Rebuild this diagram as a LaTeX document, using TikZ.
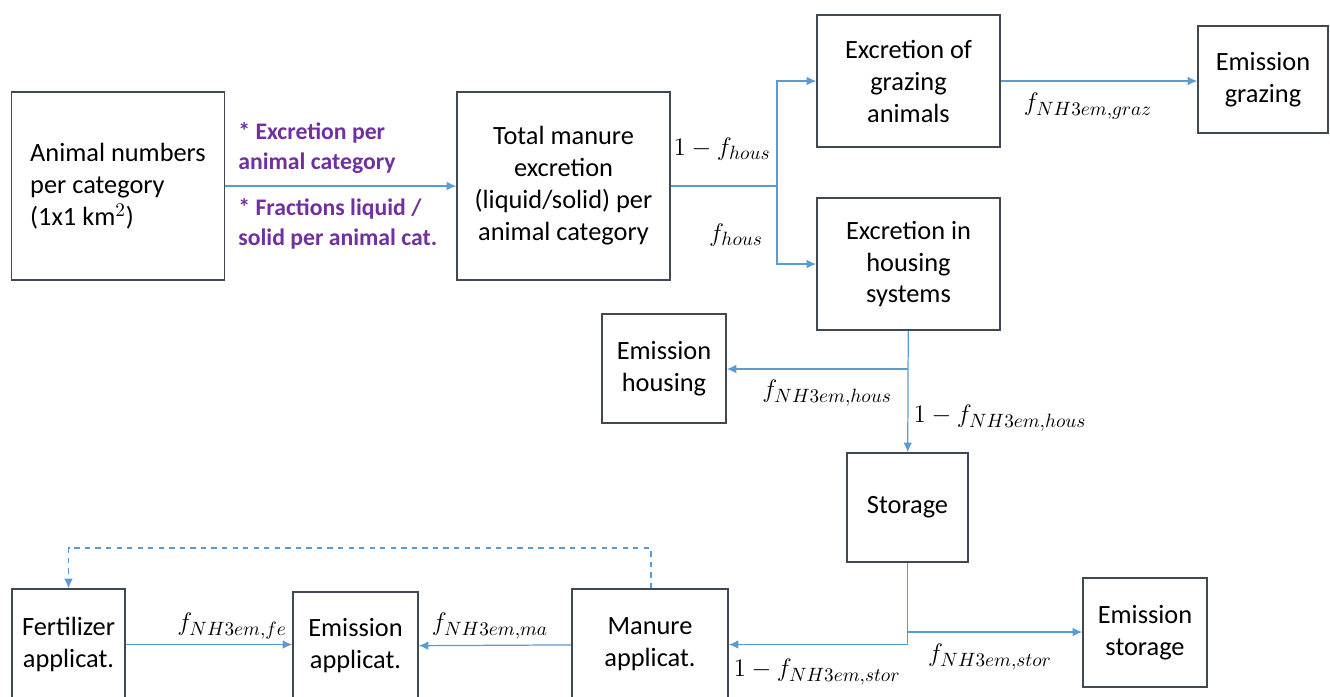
\documentclass[tikz,border=0pt]{standalone}
\usepackage{fontspec}
\setmainfont{Carlito}
\usepackage{amsmath}
\usetikzlibrary{arrows.meta}
\definecolor{flowblue}{RGB}{91,155,213}
\definecolor{boxgray}{RGB}{64,72,84}
\definecolor{notepurple}{RGB}{112,48,160}

\begin{document}
\begin{tikzpicture}[x=0.2mm, y=-0.2mm,
    box/.style={draw=boxgray, line width=0.9pt, inner sep=0pt, align=center,
                font=\fontsize{15}{18.2}\selectfont},
    flow/.style={draw=flowblue, line width=0.7pt, -{Latex[length=1.9mm,width=1.7mm]}},
    lbl/.style={font=\fontsize{15}{18}\selectfont, inner sep=1pt},
    note/.style={text=notepurple, align=left, anchor=west, inner sep=0pt,
                 font=\fontsize{13.5}{17}\selectfont\bfseries}]
              \useasboundingbox (0,0) rectangle (1330,696);
              % boxes
              \node [box, align=left, minimum width=42.6mm, minimum height=37.6mm] (animal) at (118,186) {Animal numbers\\per category\\(1x1 km$^2$)};
              \node [box, minimum width=42.6mm, minimum height=37.6mm] (total) at (563.5,186) {Total manure\\excretion\\(liquid/solid) per\\animal category};
              \node [box, minimum width=36.6mm, minimum height=26.4mm] (grazing) at (908.5,81) {Excretion of\\grazing\\animals};
              \node [box, minimum width=26mm, minimum height=21.4mm] (emgraz) at (1263,79.5) {Emission\\grazing};
              \node [box, minimum width=36.6mm, minimum height=26.4mm] (housing) at (908.5,264) {Excretion in\\housing\\systems};
              \node [box, minimum width=24.8mm, minimum height=21.8mm] (emhous) at (664,368.5) {Emission\\housing};
              \node [box, minimum width=24.2mm, minimum height=21.8mm] (storage) at (907.5,507.5) {Storage};
              \node [box, minimum width=24.8mm, minimum height=21.8mm] (emstor) at (1145,632.5) {Emission\\storage};
              \node [box, minimum width=31.2mm, minimum height=22.2mm] (manure) at (650,644.5) {Manure\\applicat.};
              \node [box, minimum width=25mm, minimum height=21.6mm] (emappl) at (355.5,646) {Emission\\applicat.};
              \node [box, minimum width=22.6mm, minimum height=22.2mm] (fert) at (68.5,644.5) {Fertilizer\\applicat.};
              % branch points
              \coordinate (split) at (777,186);
              \coordinate (hbr) at (908,369);
              \coordinate (sbr) at (908,632);
              \coordinate (dash) at (651,548);
              % connectors
              \draw [flow] (animal) -- (total);
              \draw [flow] (total.east |- split) -- (split) |- (grazing);
              \draw [flow] (split) |- (housing);
              \draw [flow] (grazing.east) -- (grazing.east -| emgraz.west);
              \draw [flow] (housing) -- (storage);
              \draw [flow] (hbr) -- (hbr -| emhous.east);
              \draw [flow] (storage) |- (manure);
              \draw [flow] (sbr) -- (sbr -| emstor.west);
              \draw [flow] (manure) -- (emappl);
              \draw [flow] (fert.east) -- (fert.east -| emappl.west);
              \draw [flow, dashed] (dash |- manure.north) -- (dash) -| (fert);
              % labels
              \node [note] (noteup) at (238,148) {* Excretion per\\animal category};
              \node [note] (notedown) at (238,224) {* Fractions liquid /\\solid per animal cat.};
              \node [lbl] (lgraz1) at (722,149) {$1-f_{hous}$};
              \node [lbl] (lhous1) at (736,235) {$f_{hous}$};
              \node [lbl] (lgraz2) at (1088,106) {$f_{NH3em,graz}$};
              \node [lbl] (lhous2) at (827,393) {$f_{NH3em,hous}$};
              \node [lbl] (lhous3) at (1000,418) {$1-f_{NH3em,hous}$};
              \node [lbl] (lstor1) at (990,657) {$f_{NH3em,stor}$};
              \node [lbl] (lstor2) at (817,672) {$1-f_{NH3em,stor}$};
              \node [lbl] (lma) at (490,626) {$f_{NH3em,ma}$};
              \node [lbl] (lfe) at (232,626) {$f_{NH3em,fe}$};
              \end{tikzpicture}
\end{document}
